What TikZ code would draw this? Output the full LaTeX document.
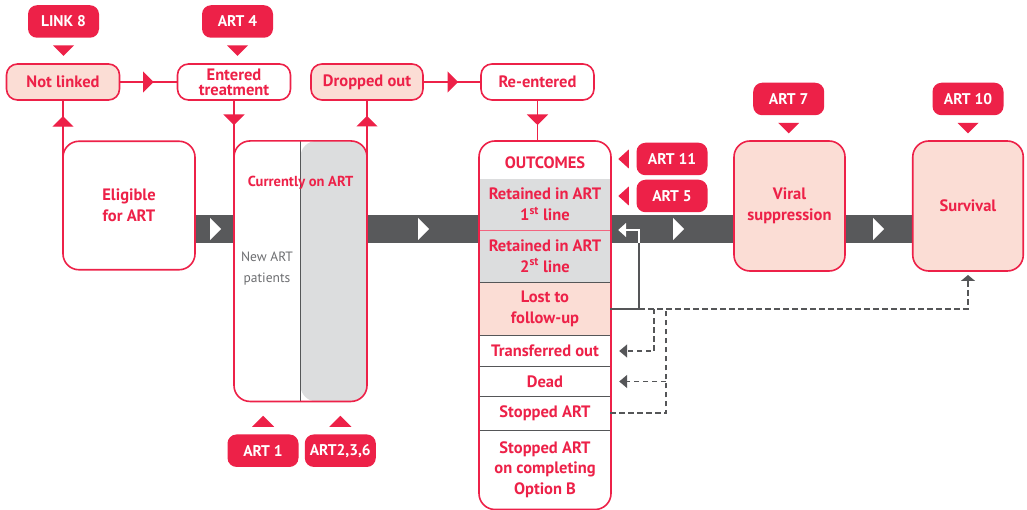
\documentclass[tikz,border=0pt]{standalone}
\usepackage{fontspec}
\setmainfont{PT Sans}
\usetikzlibrary{positioning, calc, arrows.meta, decorations.markings, backgrounds}

\definecolor{artred}{RGB}{237,33,72}
\definecolor{artpink}{RGB}{251,221,213}
\definecolor{artgrey}{RGB}{220,221,222}
\definecolor{banddark}{RGB}{88,89,91}
\definecolor{linegrey}{RGB}{85,86,88}
\definecolor{textgrey}{RGB}{109,110,113}

\tikzset{
  tag/.style={fill=artred, text=white, rounded corners=9pt, minimum width=71pt,
    minimum height=32.5pt, inner sep=0pt, font=\fontsize{15.5}{18}\selectfont\bfseries},
  stage/.style={draw=artred, line width=1.6pt, fill=white, rounded corners=11pt,
    minimum width=113pt, minimum height=36pt, inner sep=0pt, outer sep=0pt,
    text=artred, align=center, font=\fontsize{16.5}{15}\selectfont\bfseries},
  block/.style={draw=artred, line width=1.6pt, fill=white, rounded corners=16pt,
    inner sep=0pt, outer sep=0pt, text=artred, align=center,
    font=\fontsize{16.5}{21}\selectfont\bfseries},
  row/.style={minimum width=130.4pt, inner sep=0pt, outer sep=0pt, text=artred,
    align=center, font=\fontsize{16.5}{20.5}\selectfont\bfseries},
  flow/.style={artred, line width=1.4pt, postaction={decorate},
    decoration={markings, mark=at position #1 with {\arrow{Triangle[width=21pt,length=10.5pt]}}}},
  sepline/.style={linegrey, line width=1pt},
  backline/.style={linegrey, line width=1.5pt},
  dashline/.style={linegrey, line width=1.6pt, dash pattern=on 5.5pt off 3.5pt},
  greytip/.style={-{Triangle[width=13pt,length=8pt]}}
}

\begin{document}
\begin{tikzpicture}[x=1pt, y=-1pt]
\useasboundingbox (0,0) rectangle (1027,510);

% top row
\node[stage, fill=artpink] (notlinked) at (63,82) {Not linked};
\node[stage] (entered) at (234,82) {Entered\\treatment};
\node[stage, fill=artpink, minimum width=112pt] (dropped) at (367,82) {Dropped out};
\node[stage] (reentered) at (537.5,82) {Re-entered};

\node[tag] (link8) at (63.5,21.5) {LINK 8};
\node[tag] (art4) at (237.5,21.5) {ART 4};

% main boxes
\node[block, minimum width=132pt, minimum height=128.5pt] (eligible) at (129,205.5) {Eligible\\for ART};
\node[block, minimum width=133pt, minimum height=260.5pt,
  path picture={
    \fill[artgrey] (path picture bounding box.north) rectangle (path picture bounding box.south east);
    \draw[sepline] (path picture bounding box.north) -- (path picture bounding box.south);
  }] (current) at (300.5,271.2) {};
\node[text=artred, font=\fontsize{14.5}{17}\selectfont\bfseries] (curlabel) at (300.5,183) {Currently on ART};
\node[text=textgrey, align=center, font=\fontsize{13.5}{21}\selectfont] (newart) at (267,269) {New ART\\patients};

\node[tag] (art1) at (263,450.7) {ART 1};
\node[tag] (art236) at (340.3,450.7) {ART2,3,6};

% outcomes column
\node[block, minimum width=132pt, minimum height=368.5pt] (outcomes) at (545,325.25) {};
\node[row, minimum height=38pt, text height=17.5pt, text depth=0pt] (head) at (545,160) {OUTCOMES};
\node[row, minimum height=51pt, fill=artgrey, below=0pt of head] (ret1) {Retained in ART\\1\textsuperscript{st} line};
\node[row, minimum height=52.5pt, fill=artgrey, below=0pt of ret1] (ret2) {Retained in ART\\2\textsuperscript{st} line};
\node[row, minimum height=53pt, fill=artpink, below=0pt of ret2] (lost) {Lost to\\follow-up};
\node[row, minimum height=31pt, below=0pt of lost] (trans) {Transferred out};
\node[row, minimum height=30pt, below=0pt of trans] (dead) {Dead};
\node[row, minimum height=33.5pt, below=0pt of dead] (stopped) {Stopped ART};
\node[row, minimum height=79pt, below=0pt of stopped] (optb) {Stopped ART\\on completing\\Option B};

\draw[artred!70, line width=0.8pt] (ret1.south west) -- (ret1.south east);
\foreach \r in {ret2, lost, trans, dead, stopped}
  \draw[sepline] (\r.south west) -- (\r.south east);

\node[tag] (art11) at (672,159) {ART 11};
\node[tag] (art5) at (672,196) {ART 5};

\node[block, fill=artpink, minimum width=111pt, minimum height=130pt] (viral) at (789.5,206) {Viral\\suppression};
\node[block, fill=artpink, minimum width=110.5pt, minimum height=130pt] (survival) at (968,206) {Survival};
\node[tag] (art7) at (788.7,99) {ART 7};
\node[tag] (art10) at (968,99) {ART 10};

% tag pointers
\foreach \t in {link8, art4, art7, art10}
  \fill[artred] ($(\t.south)+(-10.5,7.5)$) -- ++(21,0) -- ++(-10.5,10.5) -- cycle;
\foreach \t in {art1, art236}
  \fill[artred] ($(\t.north)+(-11,-7.5)$) -- ++(22,0) -- ++(-11,-11) -- cycle;
\foreach \t in {art11, art5}
  \fill[artred] ($(\t.west)+(-7.5,-9.5)$) -- ++(0,19) -- ++(-10.5,-9.5) -- cycle;

% band
\begin{scope}[on background layer]
  \fill[white] (0,0) rectangle (1027,510);
  \fill[banddark] (eligible.east |- 0,215) rectangle (survival.west |- 0,243);
\end{scope}
\foreach \x in {210,418,673,873}
  \fill[white] (\x,218) -- ++(11,11) -- ++(-11,11) -- cycle;

% flows
\draw[flow=34pt] (notlinked) -- (entered);
\draw[flow=35pt] (dropped) -- (reentered);
\draw[flow=41pt] ($(eligible.north west)+(0,16)$) -- (notlinked);
\draw[flow=25pt] (entered) -- ($(current.north west)+(0,16)$);
\draw[flow=41pt] ($(current.north east)+(0,16)$) -- (dropped);
\draw[flow=25pt] (reentered) -- (reentered |- outcomes.north);

% return and outcome links
\coordinate (turn) at ($(lost.east)+(29,0)$);
\draw[backline, -{Triangle[width=14pt,length=8pt]}] (lost.east) -- (turn) |- ($(ret1.south east)+(8,0)$);
\draw[white, line width=1.5pt, -{Triangle[width=14pt,length=8pt]}] (turn |- 0,243) |- ($(ret1.south east)+(8,0)$);
\draw[dashline, -{Triangle[width=14pt,length=6pt]}] (turn) -| ($(survival.south)+(0,4)$);
\draw[dashline, greytip] ($(turn)+(15,0)$) |- ($(trans.east)+(9,0)$);
\draw[dashline] (stopped.east) -- ++(56,0) coordinate (djoin) -- (djoin |- turn);
\draw[dashline, greytip] (djoin |- dead.east) -- ($(dead.east)+(9,0)$);

\end{tikzpicture}
\end{document}
